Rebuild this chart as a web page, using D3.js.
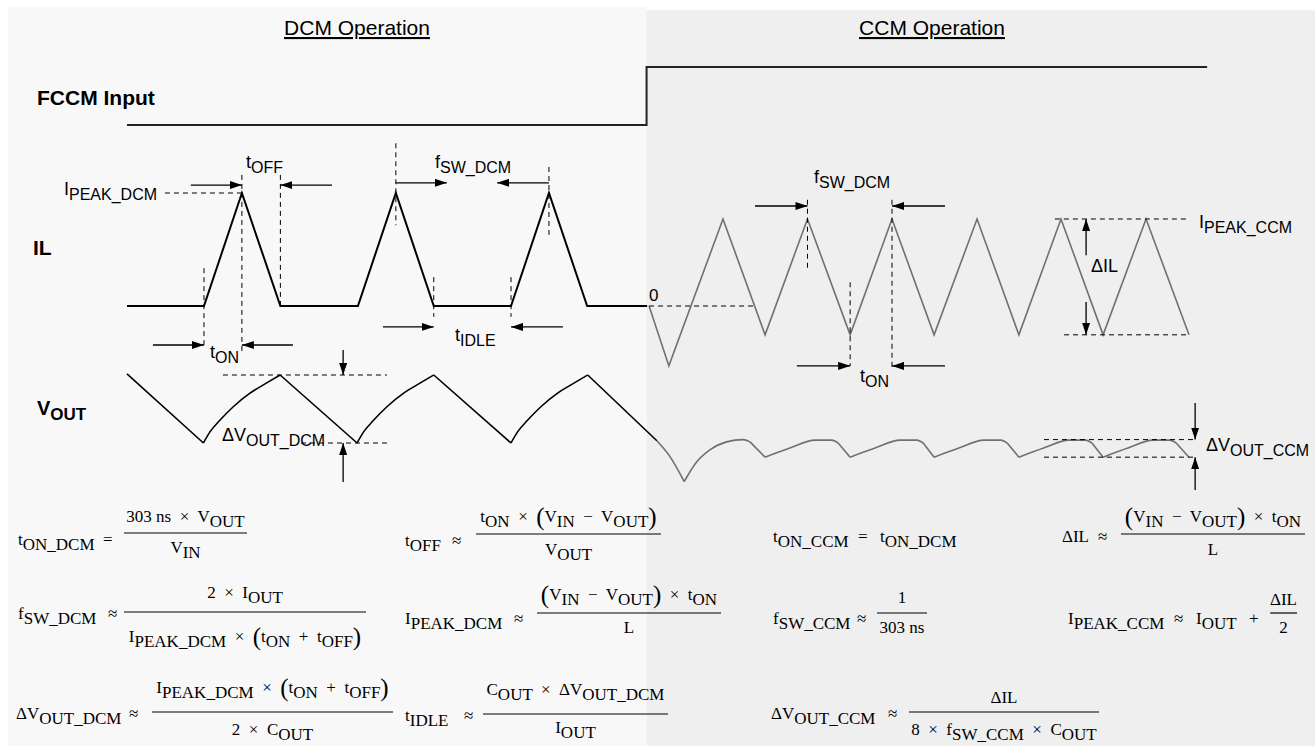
<!DOCTYPE html>
<html>
<head>
<meta charset="utf-8">
<script src="https://cdn.jsdelivr.net/npm/d3@7"></script>
<style>
  body { margin: 0; background: #fff; }
  svg text { font-family: "Liberation Sans", Arial, sans-serif; white-space: pre; fill: #000; }
  svg text.eq { font-family: "Liberation Serif", "Times New Roman", serif; }
</style>
</head>
<body>
<svg id="chart" width="1315" height="746"></svg>
<script>
// time in ns, inductor current in A, output ripple in mV, FCCM pin as logic level
const fccmInput = [[0, 0], [1863, 0], [1863, 1], [3873, 1]];
const dcmIL = [[0, 0], [276, 0], [412, 2], [550, 0], [828, 0], [964, 2], [1100, 0], [1377, 0], [1513, 2], [1650, 0], [1865, 0]];
const ccmIL = [[1872, 0], [1943, -1.06], [2137, 1.54], [2288, -0.51], [2440, 1.54], [2593, -0.51], [2743, 1.54],
  [2894, -0.51], [3048, 1.54], [3198, -0.51], [3349, 1.54], [3500, -0.51], [3654, 1.54], [3808, -0.51]];
const dcmVout = [
  [[0, 31], [274, -30]],
  [[274, -30], [298, -20], [333, -10], [381, 2], [441, 14], [501, 23], [549, 30]],
  [[549, 30], [825, -30]],
  [[825, -30], [849, -20], [884, -10], [932, 2], [992, 14], [1052, 23], [1100, 30]],
  [[1100, 30], [1377, -30]],
  [[1377, -30], [1401, -20], [1436, -10], [1484, 2], [1544, 14], [1604, 23], [1652, 30]],
  [[1652, 30], [1900, -28]]
];
const ccmVout = [
  [[1900, -28], [1947, -42], [1998, -64]],
  [[1998, -64], [2043, -46.5], [2090, -36], [2150, -29], [2209, -27], [2234, -29]],
  [[2234, -29], [2288, -42.5]],
  [[2288, -42.5], [2377, -34.5], [2467, -27.5], [2527, -27.5], [2550, -30]],
  [[2550, -30], [2593, -42.5]],
  [[2593, -42.5], [2682, -34.5], [2772, -27.5], [2832, -27.5], [2855, -30]],
  [[2855, -30], [2894, -42.5]],
  [[2894, -42.5], [2983, -34.5], [3073, -27.5], [3133, -27.5], [3156, -30]],
  [[3156, -30], [3198, -42.5]],
  [[3198, -42.5], [3287, -34.5], [3377, -27.5], [3437, -27.5], [3460, -30]],
  [[3460, -30], [3500, -42.5]],
  [[3500, -42.5], [3589, -34.5], [3679, -27.5], [3739, -27.5], [3762, -30]],
  [[3762, -30], [3808, -42.5]]
];
const titles = ["DCM Operation", "CCM Operation"];

const W = 1315, H = 746;
const x = d3.scaleLinear().domain([0, 3808]).range([127, 1189]);
const yIn = d3.scaleLinear().domain([0, 1]).range([125, 67]);
const yIL = d3.scaleLinear().domain([0, 2]).range([306, 193]);
const yV = d3.scaleLinear().domain([-30, 30]).range([443, 375]);

const svg = d3.select("#chart");
const split = x(fccmInput[1][0]);
svg.append("rect").attr("x", 8).attr("y", 7).attr("width", split - 8).attr("height", H - 7).attr("fill", "#f8f8f8");
svg.append("rect").attr("x", split).attr("y", 10).attr("width", W - split).attr("height", H - 10).attr("fill", "#efefef");

svg.append("defs").append("marker")
  .attr("id", "ah").attr("viewBox", "0 0 12 8").attr("refX", 12).attr("refY", 4)
  .attr("markerWidth", 12).attr("markerHeight", 8).attr("markerUnits", "userSpaceOnUse").attr("orient", "auto")
  .append("path").attr("d", "M0,0L12,4L0,8Z").attr("fill", "#000");

const g = svg.append("g");

function trace(data, ys, color, width, curve) {
  const gen = d3.line().x(d => x(d[0])).y(d => ys(d[1])).curve(curve || d3.curveLinear);
  g.append("path").attr("d", gen(data)).attr("fill", "none").attr("stroke", color)
    .attr("stroke-width", width).attr("stroke-linejoin", "miter");
}
function dash(x1, y1, x2, y2) {
  g.append("line").attr("x1", x1).attr("y1", y1).attr("x2", x2).attr("y2", y2)
    .attr("stroke", "#000").attr("stroke-width", 1).attr("stroke-dasharray", "5,4");
}
function vdash(t, ys, a, b) { dash(x(t), ys(a), x(t), ys(b)); }
function hdash(ys, v, t1, t2) { dash(x(t1), ys(v), x(t2), ys(v)); }
function arrow(x1, y1, x2, y2) {
  g.append("line").attr("x1", x1).attr("y1", y1).attr("x2", x2).attr("y2", y2)
    .attr("stroke", "#000").attr("stroke-width", 1.3).attr("marker-end", "url(#ah)");
}
function harrow(ys, v, t1, t2) { arrow(x(t1), ys(v), x(t2), ys(v)); }
function varrow(ys, t, a, b) { arrow(x(t), ys(a), x(t), ys(b)); }

// text with subscripts: plain strings are normal, [s] is a subscript, {p} is a tall bracket
function tx(px, py, parts, o) {
  o = Object.assign({ size: 18, sub: 16, shift: 5, cls: null, anchor: "start", weight: "normal" }, o);
  const t = g.append("text").attr("x", px).attr("y", py).attr("text-anchor", o.anchor)
    .attr("font-weight", o.weight).attr("font-size", o.size);
  if (o.cls) t.attr("class", o.cls);
  let cur = 0;
  [].concat(parts).forEach(p => {
    let s, want, size;
    if (Array.isArray(p)) { s = p[0]; want = o.shift; size = o.sub; }
    else if (typeof p === "object") { s = p.p; want = 3; size = 25; }
    else { s = p; want = 0; size = o.size; }
    t.append("tspan").attr("dy", want - cur).attr("font-size", size).text(s);
    cur = want;
  });
  return t;
}
const eqo = { size: 17, sub: 17, shift: 5, cls: "eq" };
function eq(px, py, parts, anchor) { return tx(px, py, parts, Object.assign({}, eqo, { anchor: anchor || "start" })); }
function frac(x1, x2, ly, num, ny, den, dy) {
  g.append("line").attr("x1", x1).attr("x2", x2).attr("y1", ly).attr("y2", ly).attr("stroke", "#000").attr("stroke-width", 1.2);
  eq((x1 + x2) / 2, ny, num, "middle");
  eq((x1 + x2) / 2, dy, den, "middle");
}

// titles
tx(357, 35, titles[0], { size: 21, anchor: "middle" }).style("text-decoration", "underline");
tx(932, 35, titles[1], { size: 21, anchor: "middle" }).style("text-decoration", "underline");
tx(37, 105, "FCCM Input", { size: 21, weight: "bold" });
tx(33, 255, "IL", { size: 21, weight: "bold" });
tx(37, 415, ["V", ["OUT"]], { size: 20, sub: 17, weight: "bold" });

// FCCM input
trace(fccmInput, yIn, "#222", 2);

// inductor current
trace(dcmIL, yIL, "#000", 2);
trace(ccmIL, yIL, "#707070", 1.6);

// output voltage
dcmVout.forEach(s => trace(s, yV, "#000", 1.6, d3.curveMonotoneX));
ccmVout.forEach(s => trace(s, yV, "#707070", 1.6, d3.curveMonotoneX));

// DCM annotations
hdash(yIL, 2, 136, 412);
vdash(412, yIL, 2.32, -0.83);
vdash(550, yIL, 2.32, 0);
vdash(276, yIL, 0.67, -0.69);
vdash(964, yIL, 2.88, 1.43);
vdash(1513, yIL, 2.46, 1.26);
vdash(1100, yIL, 0.51, -0.19);
vdash(1377, yIL, 0.51, -0.19);
harrow(yIL, 2.14, 229, 412);
harrow(yIL, 2.14, 735, 550);
harrow(yIL, -0.69, 93, 276);
harrow(yIL, -0.69, 595, 412);
harrow(yIL, 2.18, 964, 1147);
harrow(yIL, 2.18, 1513, 1327);
harrow(yIL, -0.37, 918, 1100);
harrow(yIL, -0.37, 1563, 1377);
tx(64, 195, ["I", ["PEAK_DCM"]]);
tx(246, 168, ["t", ["OFF"]]);
tx(435, 168, ["f", ["SW_DCM"]]);
tx(210, 358, ["t", ["ON"]]);
tx(455, 341, ["t", ["IDLE"]]);

hdash(yV, 30, 344, 932);
hdash(yV, -30, 624, 932);
varrow(yV, 775, 52, 30);
varrow(yV, 775, -64.4, -30);
tx(222, 441, ["ΔV", ["OUT_DCM"]]);

// CCM annotations
hdash(yIL, 0, 1872, 2255);
tx(649, 301, "0", { size: 17 });
vdash(2440, yIL, 1.88, 0.64);
vdash(2593, yIL, 0.42, -1.06);
vdash(2743, yIL, 1.88, -1.08);
harrow(yIL, 1.77, 2252, 2440);
harrow(yIL, 1.77, 2933, 2743);
harrow(yIL, -1.06, 2402, 2593);
harrow(yIL, -1.06, 2933, 2743);
tx(814, 183, ["f", ["SW_DCM"]]);
tx(860, 382, ["t", ["ON"]]);
hdash(yIL, 1.54, 3327, 3808);
hdash(yIL, -0.51, 3360, 3808);
varrow(yIL, 3439, 0.90, 1.54);
varrow(yIL, 3439, 0.07, -0.51);
tx(1091, 272, "ΔIL");
tx(1199, 228, ["I", ["PEAK_CCM"]]);

hdash(yV, -27, 3288, 3830);
hdash(yV, -42.5, 3288, 3830);
varrow(yV, 3830, 5.3, -27);
varrow(yV, 3830, -71.5, -42.5);
tx(1206, 451, ["ΔV", ["OUT_CCM"]]);

// equations
const P = c => ({ p: c });
const ap = "≈";
eq(18, 545, ["t", ["ON_DCM"]]); eq(103, 545, "=");
frac(124, 247, 533, ["303 ns  ×  V", ["OUT"]], 522, ["V", ["IN"]], 553);

eq(18, 619, ["f", ["SW_DCM"]]); eq(108, 619, ap);
frac(124, 366, 612, ["2  ×  I", ["OUT"]], 598, ["I", ["PEAK_DCM"], "  ×  ", P("("), "t", ["ON"], "  +  t", ["OFF"], P(")")], 642);

eq(16, 719, ["ΔV", ["OUT_DCM"]]); eq(129, 719, ap);
frac(152, 393, 712, ["I", ["PEAK_DCM"], "  ×  ", P("("), "t", ["ON"], "  +  t", ["OFF"], P(")")], 693, ["2  ×  C", ["OUT"]], 735);

eq(405, 546, ["t", ["OFF"]]); eq(452, 546, ap);
frac(476, 661, 534, ["t", ["ON"], "  ×  ", P("("), "V", ["IN"], "  −  V", ["OUT"], P(")")], 522, ["V", ["OUT"]], 555);

eq(405, 624, ["I", ["PEAK_DCM"]]); eq(514, 624, ap);
frac(537, 721, 613, [P("("), "V", ["IN"], "  −  V", ["OUT"], P(")"), "  ×  t", ["ON"]], 600, "L", 633);

eq(405, 721, ["t", ["IDLE"]]); eq(464, 721, ap);
frac(483, 668, 714, ["C", ["OUT"], "  ×  ΔV", ["OUT_DCM"]], 695, ["I", ["OUT"]], 733);

eq(773, 542, ["t", ["ON_CCM"]]); eq(858, 542, "="); eq(880, 542, ["t", ["ON_DCM"]]);

eq(1062, 542, "ΔIL"); eq(1098, 542, ap);
frac(1121, 1305, 534, [P("("), "V", ["IN"], "  −  V", ["OUT"], P(")"), "  ×  t", ["ON"]], 522, "L", 555);

eq(773, 624, ["f", ["SW_CCM"]]); eq(857, 624, ap);
frac(877, 927, 613, "1", 603, "303 ns", 633);

eq(1068, 624, ["I", ["PEAK_CCM"]]); eq(1174, 624, ap); eq(1196, 624, ["I", ["OUT"]]); eq(1249, 624, "+");
frac(1270, 1297, 613, "ΔIL", 605, "2", 633);

eq(771, 719, ["ΔV", ["OUT_CCM"]]); eq(888, 719, ap);
frac(909, 1099, 712, "ΔIL", 703, ["8  ×  f", ["SW_CCM"], "  ×  C", ["OUT"]], 735);
</script>
</body>
</html>
